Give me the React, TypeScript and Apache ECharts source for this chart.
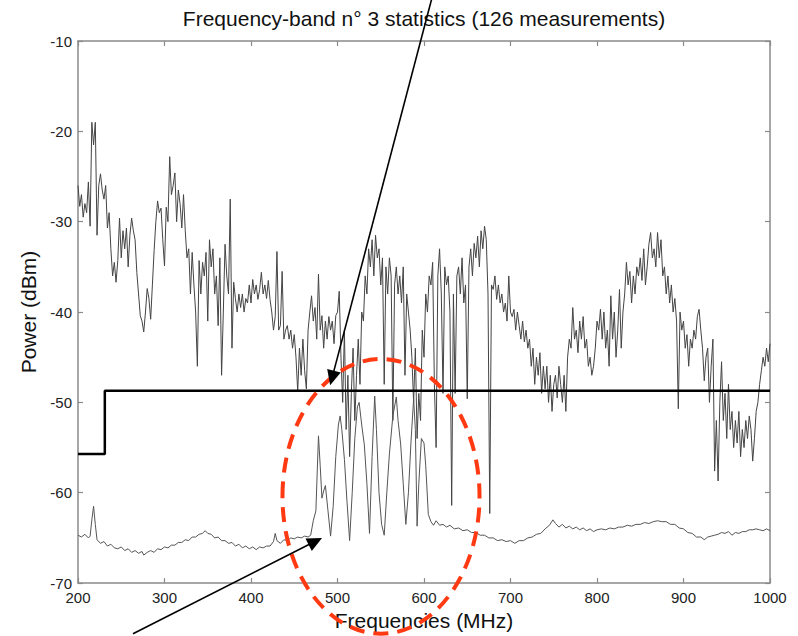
import React, { useEffect, useRef } from "react";
import * as echarts from "echarts";

const titleText = "Frequency-band n° 3 statistics (126 measurements)";
const xAxisName = "Frequencies (MHz)";
const yAxisName = "Power (dBm)";
const freqMin = 200;
const freqMax = 1000;
const freqTick = 100;
const powerMin = -70;
const powerMax = -10;
const powerTick = 10;

// Max-hold trace, sampled every 2 MHz from 200 MHz
const maxFreqStart = 200;
const maxFreqStep = 2;
const maxPower = [
  -26, -28.3, -27, -29.5, -28, -29, -25.6, -30.5, -19, -21.5,
  -19, -31.5, -26, -24.7, -26.5, -27.5, -26, -30.7, -29, -33,
  -36, -34.5, -36.7, -34.3, -29.6, -34, -31, -33, -30.7, -35,
  -31.5, -29.6, -31, -32, -35.6, -38, -40.4, -41, -42.2, -40,
  -37.4, -38.5, -40.8, -37, -33.2, -30, -27.7, -29, -28.5, -32,
  -34.9, -28.4, -30, -22.8, -27, -26, -24.6, -30, -26.5, -28,
  -30.7, -27, -31, -34, -33, -38, -33.4, -37, -40, -46,
  -34.3, -38, -34.5, -36, -33.4, -41, -32, -35, -33, -38,
  -36, -41.5, -34, -47, -40, -32.5, -36, -38, -27.5, -44,
  -36.7, -38.5, -40, -38, -39.5, -38, -40, -38.5, -39, -37,
  -39, -36.4, -38, -37, -38.6, -37.5, -35.6, -38, -37, -38.5,
  -36.5, -38.6, -40, -42, -40.5, -33.3, -42, -41.5, -35.5, -43,
  -42, -41.5, -43, -42, -44, -42.5, -45, -48.8, -44, -47,
  -43, -46.5, -48.5, -42, -40, -38.2, -41, -39.5, -43, -35.8,
  -42, -40.4, -44, -41, -43, -40.5, -42, -41, -43.5, -40.4,
  -40, -37.7, -45, -50, -42, -53, -47, -56, -49, -44,
  -52, -47, -43, -48, -40, -41, -36, -38, -33, -35,
  -32, -36, -31.5, -34, -33, -37, -34, -48, -35, -38,
  -34, -36, -52, -37, -35, -38, -36, -39, -35, -47,
  -38, -40, -42, -45, -50, -44, -54, -49, -52, -42,
  -45, -38, -40, -36, -37, -34.5, -48, -55, -36, -33,
  -38, -49, -35, -37, -36, -40, -61.4, -38, -49, -36,
  -35, -38, -34, -39, -37, -49.6, -35, -33, -36, -32.4,
  -34, -31.6, -35, -31, -33, -30.5, -32, -38, -62.3, -37,
  -37.5, -36, -38.6, -37, -39, -38, -40, -39, -41, -36,
  -40, -40.5, -39.7, -42, -40, -41.5, -43, -41, -43.3, -42,
  -44, -43, -46, -44, -48, -45, -47, -44.5, -49, -46,
  -48.5, -46, -50, -47, -51, -48, -47, -49.5, -46, -48,
  -50, -47, -51, -45, -43, -44, -39.5, -43, -42, -44.5,
  -41, -43, -40.5, -44, -43, -46, -45, -47, -46, -44,
  -41, -42, -39.7, -43, -40, -44, -42, -46, -38.2, -43,
  -40, -45, -42, -37.5, -44, -40, -38, -34.5, -37, -35.5,
  -39, -36, -38, -35, -36, -34, -36.5, -33, -37, -35,
  -32.5, -31.2, -34, -33, -35, -31.2, -34, -32, -36, -35,
  -38, -36, -39, -37, -40, -38.5, -41, -50.7, -40, -42,
  -41, -44, -42.5, -46, -43, -44, -42, -43, -40.5, -39.7,
  -42, -44, -47.6, -45, -44, -50, -46, -43, -57.6, -52,
  -58.7, -50, -45.5, -52, -49, -54, -48, -53, -51, -55,
  -52, -54.5, -51, -56, -53, -55, -52, -54, -51.5, -53,
  -56.5, -54, -51, -50, -48, -46.5, -45, -46, -44, -45.5,
  -43.5,
];

// Lower trace [MHz, dBm]
const minPowerPoints: [number, number][] = [
  [200, -64.7], [204, -64.9], [208, -64.6], [212, -65], [214, -64.8], [216, -63], [218, -61.5], [220, -63.5],
  [222, -65.2], [226, -65.6], [230, -65.4], [234, -65.9], [238, -65.7], [242, -66.1], [246, -66.2], [250, -66.0],
  [254, -66.4], [258, -66.2], [262, -66.6], [266, -66.4], [270, -66.7], [274, -66.5], [276, -66.9], [280, -66.6],
  [284, -66.4], [288, -66.6], [292, -66.2], [296, -66.3], [300, -66.0], [304, -66.1], [308, -65.8], [312, -65.8],
  [316, -65.5], [320, -65.5], [324, -65.2], [328, -65.3], [332, -64.9], [336, -64.9], [340, -64.6], [344, -64.5],
  [347, -64.2], [350, -64.5], [354, -64.6], [358, -65.0], [362, -64.9], [366, -65.3], [370, -65.3], [374, -65.6],
  [378, -65.5], [382, -65.9], [386, -65.7], [390, -66.1], [394, -65.9], [398, -66.2], [402, -66.0], [406, -66.3],
  [410, -66.0], [414, -66.1], [418, -65.9], [422, -65.9], [426, -65.4], [428, -64.5], [430, -65.3], [434, -65.6],
  [438, -65.2], [442, -65.3], [446, -65.0], [450, -65.1], [454, -64.9], [458, -65.0], [462, -64.8], [466, -64.9],
  [469, -64.7], [472, -63.1], [475, -62.0], [478, -53.7], [480, -57], [482, -60.6], [484, -59.8], [486, -59.2],
  [489, -62], [492, -64.8], [495, -61.5], [498, -56], [501, -52.5], [503, -51.5], [505, -53], [508, -56.3],
  [511, -61], [514, -65.3], [517, -60], [520, -54], [523, -50.5], [525, -50], [528, -52.5], [531, -54.7],
  [534, -59], [537, -64.5], [540, -56], [543, -49.3], [545, -53], [548, -60], [551, -63.5], [554, -64.7],
  [557, -60], [560, -55.7], [564, -51.5], [568, -49.4], [570, -52], [573, -54.6], [576, -59], [579, -63.5],
  [582, -60], [585, -54.3], [588, -49.6], [590, -53], [592, -63.7], [594, -59], [597, -54], [600, -54.5],
  [602, -57], [605, -62.4], [608, -63.2], [611, -63.6], [614, -63.1], [618, -63.6], [622, -63.5], [626, -63.8],
  [630, -63.6], [635, -64.0], [640, -63.9], [645, -64.2], [650, -64.1], [655, -64.4], [660, -64.4], [665, -64.7],
  [670, -64.7], [675, -65.0], [680, -65.0], [685, -65.3], [690, -65.2], [695, -65.4], [700, -65.3], [705, -65.6],
  [710, -65.3], [715, -65.3], [720, -65.0], [725, -64.9], [730, -64.6], [735, -64.5], [740, -64.0], [745, -63.6],
  [749, -63.0], [752, -63.4], [756, -63.8], [760, -63.5], [764, -63.9], [768, -63.7], [772, -64.0], [776, -63.8],
  [780, -64.1], [784, -63.9], [788, -64.2], [792, -64.0], [796, -64.3], [800, -64.1], [805, -64.0], [810, -64.1],
  [815, -63.9], [820, -64.0], [825, -63.8], [830, -63.8], [835, -63.6], [840, -63.7], [845, -63.5], [850, -63.5],
  [855, -63.3], [860, -63.4], [865, -63.2], [870, -63.1], [875, -63.2], [880, -63.2], [885, -63.5], [890, -63.5],
  [895, -63.9], [900, -64.0], [905, -64.4], [910, -64.5], [915, -64.9], [920, -64.9], [924, -65.2], [928, -64.9],
  [932, -64.8], [936, -64.7], [940, -64.6], [944, -64.4], [948, -64.5], [952, -64.3], [956, -64.7], [960, -64.4],
  [964, -64.5], [968, -64.3], [972, -64.3], [976, -64.1], [980, -64.1], [984, -64.0], [988, -64.1], [992, -64.2],
  [996, -64.0], [1000, -64.2],
];

// Threshold (mask) step line
const thresholdPoints: [number, number][] = [
  [200, -55.7], [231, -55.7], [231, -48.7], [1000, -48.7],
];

// Annotations, anchored in data coordinates
const arrowTopFrom: [number, number] = [609, -5.3];
const arrowTopTo: [number, number] = [491.5, -48.1];
const arrowBottomFrom: [number, number] = [263.6, -75.6];
const arrowBottomTo: [number, number] = [482.1, -65.0];
const ellipseCenter: [number, number] = [550.3, -60.4];
const ellipseRadiusMHz = 113.9;
const ellipseRadiusDb = 15.2;

const FONT = "'Liberation Sans', Arial, Helvetica, sans-serif";
const AXIS_GRAY = "#8a8a8a";

function arrowGraphics(chart: any, from: [number, number], to: [number, number]) {
  const p1 = chart.convertToPixel({ gridIndex: 0 }, from);
  const p2 = chart.convertToPixel({ gridIndex: 0 }, to);
  const dx = p2[0] - p1[0];
  const dy = p2[1] - p1[1];
  const L = Math.hypot(dx, dy);
  const ux = dx / L;
  const uy = dy / L;
  const len = 15;
  const half = 7;
  const bx = p2[0] - ux * len;
  const by = p2[1] - uy * len;
  const nx = -uy;
  const ny = ux;
  return [
    {
      type: "line",
      z: 100,
      shape: { x1: p1[0], y1: p1[1], x2: bx + ux * 2, y2: by + uy * 2 },
      style: { stroke: "#000", lineWidth: 1.6 },
    },
    {
      type: "polygon",
      z: 100,
      shape: {
        points: [
          [p2[0], p2[1]],
          [bx + nx * half, by + ny * half],
          [bx - nx * half, by - ny * half],
        ],
      },
      style: { fill: "#000" },
    },
  ];
}

export default function App() {
  const ref = useRef<HTMLDivElement>(null);

  useEffect(() => {
    if (!ref.current) return;
    const chart = echarts.init(ref.current, undefined, { renderer: "svg" });

    const maxData = maxPower.map((v, i) => [maxFreqStart + i * maxFreqStep, v]);

    const axisCommon = {
      type: "value" as const,
      axisLine: { show: true, onZero: false, lineStyle: { color: AXIS_GRAY, width: 1.5 } },
      axisTick: { show: true, inside: true, length: 5, lineStyle: { color: AXIS_GRAY, width: 1.2 } },
      splitLine: { show: false },
    };

    chart.setOption({
      animation: false,
      backgroundColor: "#ffffff",
      title: {
        text: titleText,
        left: 424,
        top: 8,
        padding: 0,
        textAlign: "center",
        textStyle: { fontFamily: FONT, fontSize: 21, fontWeight: "normal", color: "#111" },
      },
      grid: { left: 78, right: 28, top: 41, bottom: 50.5, containLabel: false },
      xAxis: [
        {
          ...axisCommon,
          min: freqMin,
          max: freqMax,
          interval: freqTick,
          position: "bottom",
          name: xAxisName,
          nameLocation: "middle",
          nameGap: 24,
          nameTextStyle: { fontFamily: FONT, fontSize: 21, color: "#111" },
          axisLabel: {
            color: "#222",
            fontFamily: FONT,
            fontSize: 15,
            margin: 7,
            formatter: (v: number) => String(v),
          },
        },
        {
          ...axisCommon,
          min: freqMin,
          max: freqMax,
          interval: freqTick,
          position: "top",
          axisLabel: { show: false },
        },
      ],
      yAxis: [
        {
          ...axisCommon,
          min: powerMin,
          max: powerMax,
          interval: powerTick,
          position: "left",
          name: yAxisName,
          nameLocation: "middle",
          nameGap: 34,
          nameTextStyle: { fontFamily: FONT, fontSize: 21, color: "#111" },
          axisLabel: {
            color: "#222",
            fontFamily: FONT,
            fontSize: 15,
            margin: 6,
            formatter: (v: number) => String(v),
          },
        },
        {
          ...axisCommon,
          min: powerMin,
          max: powerMax,
          interval: powerTick,
          position: "right",
          axisLabel: { show: false },
        },
      ],
      series: [
        {
          name: "Max",
          type: "line",
          data: maxData,
          showSymbol: false,
          symbol: "none",
          lineStyle: { color: "#444", width: 1 },
          z: 2,
        },
        {
          name: "Min",
          type: "line",
          data: minPowerPoints,
          showSymbol: false,
          symbol: "none",
          lineStyle: { color: "#555", width: 1 },
          z: 2,
        },
        {
          name: "Threshold",
          type: "line",
          data: thresholdPoints,
          showSymbol: false,
          symbol: "none",
          lineStyle: { color: "#000", width: 2.5 },
          z: 3,
        },
      ],
    });

    const c = chart.convertToPixel({ gridIndex: 0 }, ellipseCenter);
    const ex = chart.convertToPixel({ gridIndex: 0 }, [ellipseCenter[0] + ellipseRadiusMHz, ellipseCenter[1]]);
    const ey = chart.convertToPixel({ gridIndex: 0 }, [ellipseCenter[0], ellipseCenter[1] + ellipseRadiusDb]);
    const rx = Math.abs(ex[0] - c[0]);
    const ry = Math.abs(c[1] - ey[1]);

    chart.setOption({
      graphic: [
        {
          type: "ellipse",
          z: 90,
          shape: { cx: c[0], cy: c[1], rx, ry },
          style: { fill: "none", stroke: "#ff3a12", lineWidth: 4, lineDash: [15, 9] },
        },
        ...arrowGraphics(chart, arrowTopFrom, arrowTopTo),
        ...arrowGraphics(chart, arrowBottomFrom, arrowBottomTo),
      ],
    });

    return () => {
      chart.dispose();
    };
  }, []);

  return (
    <div
      ref={ref}
      style={{ position: "absolute", left: 0, top: 0, width: 798, height: 636, background: "#fff" }}
    />
  );
}
